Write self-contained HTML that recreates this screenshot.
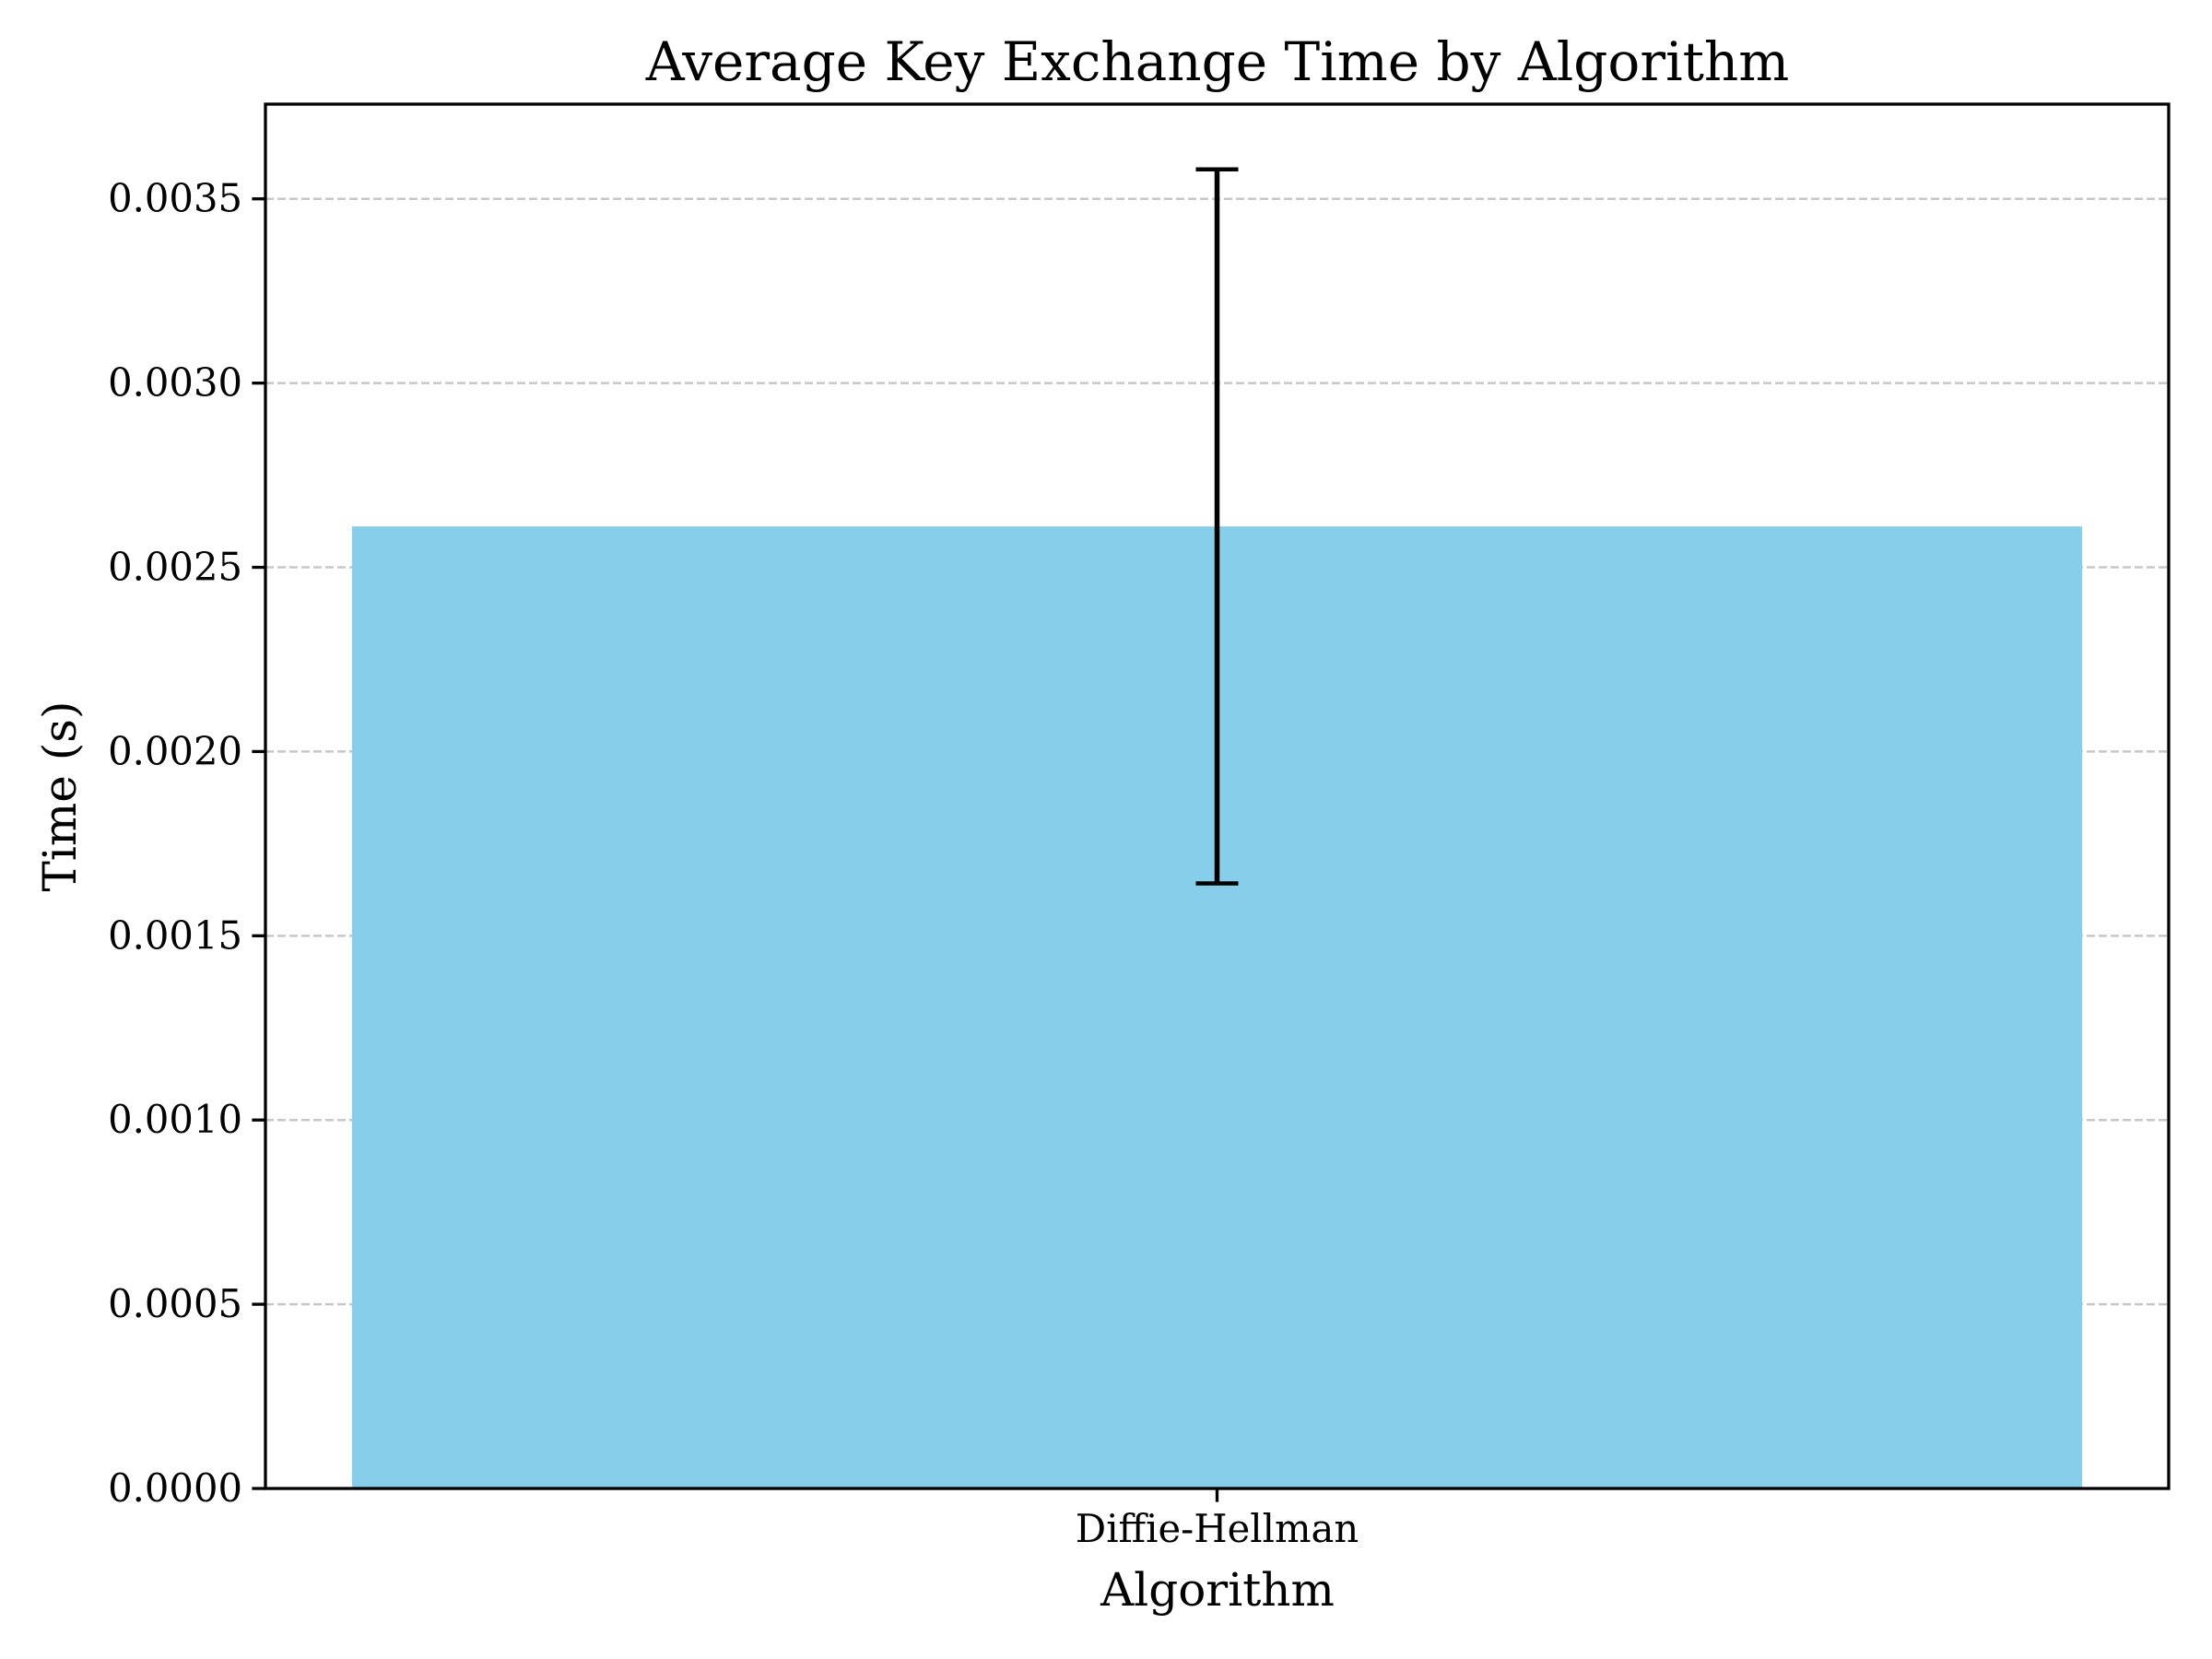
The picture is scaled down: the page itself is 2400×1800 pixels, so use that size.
<!DOCTYPE html>
<html><head><meta charset="utf-8"><style>
html,body{margin:0;padding:0;background:#fff;}
svg{display:block;font-family:"DejaVu Serif","Liberation Serif",serif;}
</style></head><body>
<svg id="chart" width="2400" height="1800" viewBox="0 0 2400 1800" xmlns="http://www.w3.org/2000/svg">
<rect width="2400" height="1800" fill="#fff"/>
<text x="1321" y="87" font-size="58" text-anchor="middle" fill="#000">Average Key Exchange Time by Algorithm</text>
<text x="1321" y="1742" font-size="50" text-anchor="middle" fill="#000">Algorithm</text>
<text x="0" y="0" font-size="50" text-anchor="middle" fill="#000" transform="translate(82,864) rotate(-90)">Time (s)</text>
<g id="grid"></g>
<g id="bars"></g>
<g id="errs"></g>
<g id="axes"></g>
</svg>
<script>
const categories = ["Diffie-Hellman"];
const meanValues = [0.002611];
const errValues = [0.000969];
const yTicks = [0, 0.0005, 0.0010, 0.0015, 0.0020, 0.0025, 0.0030, 0.0035];
const yTickLabels = ["0.0000","0.0005","0.0010","0.0015","0.0020","0.0025","0.0030","0.0035"];

const NS = "http://www.w3.org/2000/svg";
const L = 288, R = 2353, T = 113, B = 1615;
const yMax = 0.003757;
function y(v){ return B - v / yMax * (B - T); }
const n = categories.length;
const xMin = -0.44, xMax = n - 1 + 0.44;
function x(v){ return L + (v - xMin) / (xMax - xMin) * (R - L); }
function mk(tag, attrs, parent){
  const e = document.createElementNS(NS, tag);
  for (const k in attrs) e.setAttribute(k, attrs[k]);
  parent.appendChild(e);
  return e;
}
const grid = document.getElementById('grid');
const bars = document.getElementById('bars');
const errs = document.getElementById('errs');
const axes = document.getElementById('axes');

yTicks.forEach((t, i) => {
  const yy = y(t);
  if (i > 0) {
    const g = mk('line', {x1:L, x2:R, y1:yy, y2:yy, stroke:'#b0b0b0', 'stroke-width':2.5, 'stroke-dasharray':'9,4', opacity:0.7}, grid);
    
    
  }
  const tk = mk('line', {x1:L-14.6, x2:L, y1:yy, y2:yy, stroke:'#000', 'stroke-width':3.3}, axes);
  
  
  const tl = mk('text', {x:L-25, y:yy+14, 'font-size':41.7, 'text-anchor':'end', fill:'#000'}, axes);
  tl.textContent = yTickLabels[i];
  
  
});

categories.forEach((c, i) => {
  const x0 = x(i - 0.4), x1 = x(i + 0.4);
  const b = mk('rect', {x:x0, y:y(meanValues[i]), width:x1 - x0, height:B - y(meanValues[i]), fill:'#87ceeb'}, bars);
  
  
  const cx = x(i);
  const top = y(meanValues[i] + errValues[i]), bot = y(meanValues[i] - errValues[i]);
  const v = mk('line', {x1:cx, x2:cx, y1:top, y2:bot, stroke:'#000', 'stroke-width':5.5}, errs);
  
  
  [top, bot].forEach(yy => {
    const cp = mk('line', {x1:cx-23, x2:cx+23, y1:yy, y2:yy, stroke:'#000', 'stroke-width':4.5}, errs);
    
    
  });
  const tk = mk('line', {x1:cx, x2:cx, y1:B, y2:B+14.6, stroke:'#000', 'stroke-width':3.3}, axes);
  
  
  const tl = mk('text', {x:cx, y:B+58, 'font-size':41.7, 'text-anchor':'middle', fill:'#000'}, axes);
  tl.textContent = c;
  
  
});

const frame = mk('rect', {x:L, y:T, width:R - L, height:B - T, fill:'none', stroke:'#000', 'stroke-width':3.3}, axes);


</script>
</body></html>
